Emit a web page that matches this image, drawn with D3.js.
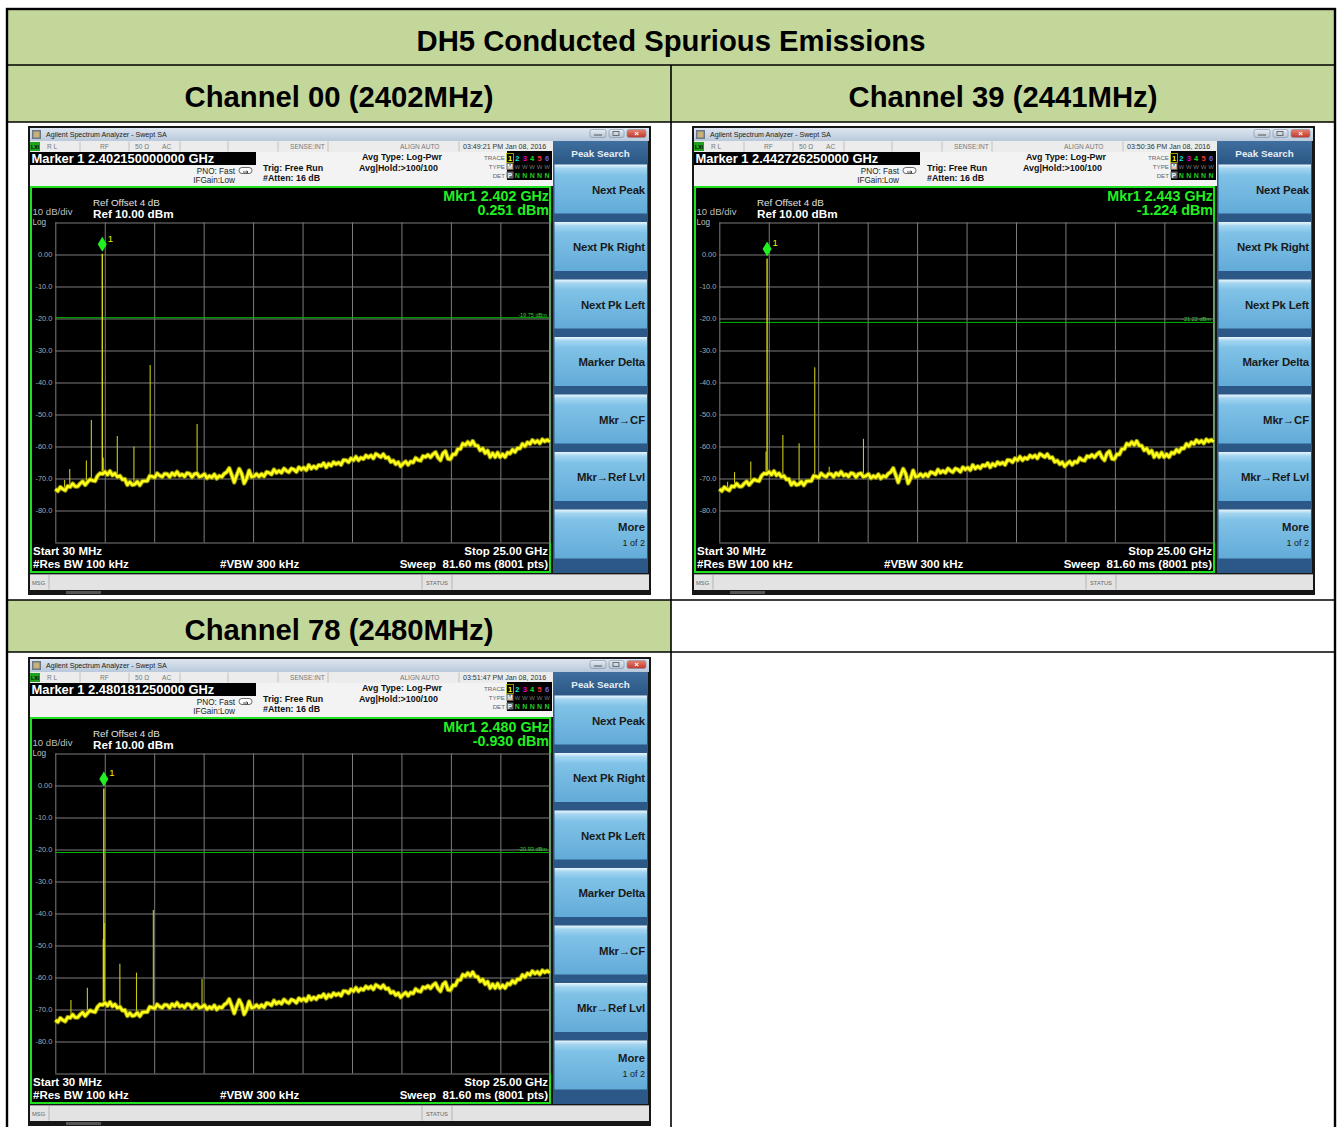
<!DOCTYPE html>
<html><head><meta charset="utf-8">
<script src="https://cdn.jsdelivr.net/npm/d3@7/dist/d3.min.js"></script>
<style>
body{margin:0;background:#fff}
svg{display:block}
text{font-family:"Liberation Sans",Arial,Helvetica,sans-serif}
</style>
</head><body>
<svg id="c" width="1343" height="1127"></svg>
<script>
// ---------------- DATA ----------------
const tableTitle = "DH5 Conducted Spurious Emissions";
const channelLabels = ["Channel 00 (2402MHz)", "Channel 39 (2441MHz)", "Channel 78 (2480MHz)"];
const markerReadouts = ["Marker 1 2.402150000000 GHz", "Marker 1 2.442726250000 GHz", "Marker 1 2.480181250000 GHz"];
const markerFreqGHz = [2.40215, 2.44273, 2.48018];
const markerLevelDbm = [0.251, -1.224, -0.930];
const markerFreqText = ["Mkr1 2.402 GHz", "Mkr1 2.443 GHz", "Mkr1 2.480 GHz"];
const markerLevelText = ["0.251 dBm", "-1.224 dBm", "-0.930 dBm"];
const displayLineDbm = [-19.75, -21.22, -20.93];
const displayLineText = ["-19.75 dBm", "-21.22 dBm", "-20.93 dBm"];
const timestamps = ["03:49:21 PM Jan 08, 2016", "03:50:36 PM Jan 08, 2016", "03:51:47 PM Jan 08, 2016"];

// spurious peaks [GHz, dBm]
const spurs00 = [[0.50,-70.5],[0.76,-67.0],[1.60,-64.4],[1.85,-51.7],[2.45,-63.5],[3.16,-56.7],[4.00,-60.0],[4.82,-34.5],[7.19,-53.0]];
const spurs39 = [[0.45,-71.0],[0.80,-68.0],[1.62,-64.7],[2.39,-61.6],[3.24,-56.4],[4.06,-59.0],[4.85,-35.2],[5.58,-66.3],[7.31,-57.6]];
const spurs78 = [[0.82,-67.0],[1.65,-63.2],[2.45,-48.0],[2.50,-43.0],[3.29,-55.7],[4.13,-58.5],[4.98,-38.9],[7.44,-60.5]];
const spursByChannel = [spurs00, spurs39, spurs78];

// sweep: 30 MHz .. 25 GHz, noise-floor trace (dBm, evenly spaced sweep points)
const sweepStartGHz = 0.03, sweepStopGHz = 25.0;
const noiseFloor = [
-73.3,-73.9,-72.7,-73.3,-73.7,-72.4,-72.6,-71.6,-72.5,-72.5,
-71.6,-70.9,-72.0,-71.1,-70.3,-70.6,-70.8,-69.2,-68.4,-68.6,
-67.9,-68.8,-67.7,-69.0,-68.4,-69.5,-69.2,-70.3,-70.2,-72.0,
-71.1,-72.0,-71.8,-71.0,-72.1,-70.9,-70.8,-70.8,-69.2,-69.4,
-69.7,-68.4,-69.1,-69.5,-68.5,-68.6,-69.5,-68.3,-69.0,-67.9,
-69.1,-68.7,-69.4,-68.3,-68.5,-69.6,-68.6,-68.4,-69.5,-69.2,
-68.6,-69.9,-69.2,-69.7,-68.7,-70.0,-69.2,-69.5,-68.5,-68.0,
-66.8,-68.9,-71.2,-69.0,-67.0,-68.5,-71.5,-70.0,-67.5,-69.5,
-69.3,-68.6,-69.4,-68.6,-69.3,-68.0,-68.2,-68.7,-67.2,-68.2,
-67.6,-68.2,-66.9,-67.6,-68.0,-66.9,-67.2,-67.9,-66.5,-67.2,
-66.6,-67.4,-65.8,-66.9,-66.2,-66.8,-65.8,-66.1,-65.2,-66.5,
-65.4,-66.0,-64.9,-65.5,-65.0,-65.7,-64.2,-64.3,-64.9,-63.7,
-64.3,-63.2,-64.3,-63.5,-63.9,-62.8,-63.4,-62.8,-63.7,-62.3,
-62.8,-63.3,-62.4,-63.6,-63.4,-64.8,-64.4,-65.5,-64.9,-66.2,
-65.3,-64.7,-65.7,-64.7,-65.0,-63.6,-64.2,-64.4,-63.0,-63.3,
-62.6,-63.4,-62.4,-61.8,-63.4,-64.3,-62.2,-61.5,-63.8,-64.0,
-62.4,-62.5,-60.8,-60.8,-59.1,-59.6,-58.6,-59.5,-58.3,-59.7,
-59.8,-61.2,-60.6,-62.1,-61.3,-63.3,-62.1,-63.3,-61.9,-63.3,
-62.4,-63.3,-61.9,-62.2,-61.0,-61.7,-60.5,-60.6,-59.2,-59.9,
-58.7,-59.2,-58.0,-58.8,-58.2,-59.0,-57.8,-58.4,-57.9,-58.5
];

const refLevelDbm = 10, bottomLevelDbm = -90;
const yTickValues = [0, -10, -20, -30, -40, -50, -60, -70, -80];
const yGridValues = [10, 0, -10, -20, -30, -40, -50, -60, -70, -80, -90];
const softkeys = ["Next Peak", "Next Pk Right", "Next Pk Left", "Marker Delta", "Mkr\u2192CF", "Mkr\u2192Ref Lvl", "More"];
const statusCells = [["R L",19],["RF",72],["50 \u03a9",107],["AC",134],["SENSE:INT",262],["ALIGN AUTO",372]];

// ---------------- LAYOUT ----------------
const svg = d3.select("#c");
const FONT = '"Liberation Sans",Arial,sans-serif';
const defs = svg.append("defs");
function grad(id, stops){
  const lg = defs.append("linearGradient").attr("id", id).attr("x1",0).attr("y1",0).attr("x2",0).attr("y2",1);
  stops.forEach(s => lg.append("stop").attr("offset", s[0]).attr("stop-color", s[1]));
}
grad("gTitle", [[0,"#dde6f0"],[1,"#b9c9db"]]);
grad("gKey", [[0,"#eaf6fd"],[0.08,"#a3d5f0"],[0.22,"#80c2e7"],[1,"#62abd8"]]);
grad("gHead", [[0,"#3f6f9f"],[1,"#2a5683"]]);
grad("gBtn", [[0,"#e7edf4"],[1,"#b6c4d4"]]);
grad("gClose", [[0,"#e9826f"],[1,"#c0392b"]]);

// table
const T = {l:7, r:1335, t:9, b:1160, mid:671, r1:65, r2:122, r3:600, r4:652};
const green = "#c4d79b";
svg.append("rect").attr("x",T.l).attr("y",T.t).attr("width",T.r-T.l).attr("height",T.r2-T.t).attr("fill",green);
svg.append("rect").attr("x",T.l).attr("y",T.r3).attr("width",T.mid-T.l).attr("height",T.r4-T.r3).attr("fill",green);

function header(txt, cx, cy, w){
  svg.append("text").attr("x",cx).attr("y",cy).attr("text-anchor","middle").attr("dominant-baseline","central")
    .attr("font-size",29).attr("font-weight","bold").attr("fill","#000")
    .attr("textLength",w).attr("lengthAdjust","spacingAndGlyphs").text(txt);
}
header(tableTitle, 671, 41, 509);
header(channelLabels[0], 339, 96.5, 309);
header(channelLabels[1], 1003, 96.5, 309);
header(channelLabels[2], 339, 630, 309);

// ---------------- ANALYZER SCREEN ----------------
const W = 623, H = 469;
const x = d3.scaleLinear().domain([sweepStartGHz, sweepStopGHz]).range([27.3, 521.8]);
const y = d3.scaleLinear().domain([refLevelDbm, bottomLevelDbm]).range([96.5, 416.5]);
const stepGHz = (sweepStopGHz - sweepStartGHz) / (noiseFloor.length - 1);
const floorAt = f => noiseFloor[Math.max(0, Math.min(noiseFloor.length-1, Math.round((f - sweepStartGHz)/stepGHz)))];

function t(g, s, xx, yy, opt){
  const e = g.append("text").attr("x",xx).attr("y",yy).attr("dominant-baseline","central").text(s);
  Object.entries(opt||{}).forEach(([k,v]) => e.attr(k,v));
  return e;
}

function drawAnalyzer(k, ox, oy){
  const g = svg.append("g").attr("transform",`translate(${ox},${oy})`);
  g.append("rect").attr("width",W).attr("height",H).attr("fill","#161616");
  // title bar
  g.append("rect").attr("x",2).attr("y",2).attr("width",W-4).attr("height",13).attr("fill","url(#gTitle)");
  g.append("rect").attr("x",4).attr("y",4).attr("width",9).attr("height",9).attr("fill","#6a7788");
  g.append("rect").attr("x",5.5).attr("y",5.5).attr("width",6).attr("height",6).attr("fill","#c9b27a");
  t(g,"Agilent Spectrum Analyzer - Swept SA",18,8.7,{"font-size":7.1,"fill":"#222"});
  [[562,16,"url(#gBtn)"],[581,15,"url(#gBtn)"],[599,19,"url(#gClose)"]].forEach(b=>{
    g.append("rect").attr("x",b[0]).attr("y",3.5).attr("width",b[1]).attr("height",8).attr("rx",2)
      .attr("fill",b[2]).attr("stroke","#7d8fa3").attr("stroke-width",0.6);
  });
  g.append("line").attr("x1",566).attr("x2",574).attr("y1",9).attr("y2",9).attr("stroke","#555").attr("stroke-width",1);
  g.append("rect").attr("x",585).attr("y",5.5).attr("width",6).attr("height",4).attr("fill","none").attr("stroke","#555").attr("stroke-width",0.8);
  t(g,"\u00d7",608.5,7.6,{"font-size":8,"fill":"#fff","text-anchor":"middle","font-weight":"bold"});

  // status row
  g.append("rect").attr("x",2).attr("y",15).attr("width",523).attr("height",11).attr("fill","#ececec");
  [52,101,152,200,250,300,431].forEach(d=>g.append("line").attr("x1",d).attr("x2",d).attr("y1",15.5).attr("y2",25.5).attr("stroke","#b8b8b8").attr("stroke-width",0.8));
  g.append("rect").attr("x",2).attr("y",16).attr("width",10).attr("height",9).attr("fill","#1fa31f");
  t(g,"LXI",7,20.6,{"font-size":5,"fill":"#000","text-anchor":"middle","font-weight":"bold"});
  statusCells.forEach(c=>t(g,c[0],c[1],20.6,{"font-size":6.6,"fill":"#777"}));
  t(g,timestamps[k],435,20.6,{"font-size":7.1,"fill":"#333"});

  // info area
  g.append("rect").attr("x",2).attr("y",26).attr("width",523).attr("height",34).attr("fill","#f3f3f3");
  g.append("rect").attr("x",2).attr("y",26).attr("width",226).attr("height",13).attr("fill","#000");
  t(g,markerReadouts[k],3.5,32.8,{"font-size":12.9,"font-weight":"bold","fill":"#fff"});
  t(g,"PNO: Fast",207,45,{"font-size":8.2,"fill":"#222","text-anchor":"end"});
  t(g,"IFGain:Low",207,54,{"font-size":8.2,"fill":"#222","text-anchor":"end"});
  g.append("rect").attr("x",211).attr("y",41.5).attr("width",13).attr("height",6).attr("rx",3).attr("fill","#fff").attr("stroke","#444").attr("stroke-width",0.8);
  g.append("path").attr("d","M215,46 L220,46 M218.5,44.5 L220,46 L218.5,47.5").attr("stroke","#222").attr("fill","none").attr("stroke-width",0.8);
  t(g,"Trig: Free Run",235,42,{"font-size":8.9,"font-weight":"bold","fill":"#111"});
  t(g,"#Atten: 16 dB",235,52,{"font-size":8.9,"font-weight":"bold","fill":"#111"});
  t(g,"Avg Type: Log-Pwr",334,31,{"font-size":8.9,"font-weight":"bold","fill":"#111"});
  t(g,"Avg|Hold:>100/100",331,42,{"font-size":8.9,"font-weight":"bold","fill":"#111"});
  t(g,"TRACE",477,31.5,{"font-size":6.2,"fill":"#666","text-anchor":"end"});
  t(g,"TYPE",477,40.5,{"font-size":6.2,"fill":"#666","text-anchor":"end"});
  t(g,"DET",477,49,{"font-size":6.2,"fill":"#666","text-anchor":"end"});
  g.append("rect").attr("x",479).attr("y",25).attr("width",45).attr("height",29).attr("fill","#000");
  const tc = ["#ffff00","#00e5e5","#e000e0","#22dd22","#ff3030","#6060ff"];
  tc.forEach((c,i)=>{
    const cx = 482 + i*7.4;
    t(g,String(i+1),cx,32,{"font-size":7.5,"font-weight":"bold","fill":c,"text-anchor":"middle"});
    if(i>0){
      t(g,"W",cx,40.5,{"font-size":6,"fill":"#777","text-anchor":"middle"});
      t(g,"N",cx,49,{"font-size":7,"font-weight":"bold","fill":"#22cc22","text-anchor":"middle"});
    }
  });
  g.append("rect").attr("x",478.5).attr("y",27.5).attr("width",7).attr("height",9).attr("fill","none").attr("stroke","#bbbb00").attr("stroke-width",0.8);
  g.append("rect").attr("x",478.5).attr("y",37).attr("width",7).attr("height",7).attr("fill","#666");
  t(g,"M",482,40.5,{"font-size":6.5,"font-weight":"bold","fill":"#fff","text-anchor":"middle"});
  g.append("rect").attr("x",478.5).attr("y",45.5).attr("width",7).attr("height",7).attr("fill","#666");
  t(g,"P",482,49,{"font-size":6.5,"font-weight":"bold","fill":"#fff","text-anchor":"middle"});

  // plot region
  g.append("rect").attr("x",3).attr("y",61).attr("width",519).attr("height",385).attr("fill","#000")
    .attr("stroke","#1fe01f").attr("stroke-width",2);

  // grid via axes
  const xTickVals = d3.range(0, 11).map(i => sweepStartGHz + i*(sweepStopGHz - sweepStartGHz)/10);
  g.append("g").attr("transform",`translate(0,${y(bottomLevelDbm)})`)
    .call(d3.axisBottom(x).tickValues(xTickVals).tickSize(-(y(bottomLevelDbm)-y(refLevelDbm))).tickFormat(""))
    .call(s=>{s.select(".domain").remove(); s.selectAll("line").attr("stroke","#7c7c7c").attr("stroke-width",1);});
  g.append("g").attr("transform",`translate(${x(sweepStartGHz)},0)`)
    .call(d3.axisLeft(y).tickValues(yGridValues).tickSize(-(x(sweepStopGHz)-x(sweepStartGHz))).tickFormat(""))
    .call(s=>{s.select(".domain").remove(); s.selectAll("line").attr("stroke","#7c7c7c").attr("stroke-width",1);});
  g.append("g").attr("transform",`translate(${x(sweepStartGHz)},0)`)
    .call(d3.axisLeft(y).tickValues(yTickValues).tickSize(0).tickPadding(3).tickFormat(d => d===0 ? "0.00" : d.toFixed(1)))
    .call(s=>{s.select(".domain").remove(); s.selectAll("text").attr("fill","#a8a8a8").attr("font-size",7.4).attr("font-family",FONT);});

  // plot texts
  t(g,"Ref Offset 4 dB",65,76,{"font-size":9.8,"fill":"#e0e0e0"});
  t(g,"Ref 10.00 dBm",65,87.5,{"font-size":11.7,"font-weight":"bold","fill":"#fff"});
  t(g,"10 dB/div",4.5,86.6,{"font-size":8.2,"fill":"#bdbdbd","textLength":40,"lengthAdjust":"spacingAndGlyphs"});
  t(g,"Log",4.5,96.4,{"font-size":8.2,"fill":"#bdbdbd"});
  t(g,markerFreqText[k],521,70,{"font-size":14.3,"font-weight":"bold","fill":"#22f022","text-anchor":"end"});
  t(g,markerLevelText[k],521,84,{"font-size":14.3,"font-weight":"bold","fill":"#22f022","text-anchor":"end"});
  const bt = {"font-size":11.5,"font-weight":"bold","fill":"#fff"};
  t(g,"Start 30 MHz",5,425,bt);
  t(g,"#Res BW 100 kHz",5,438,bt);
  t(g,"#VBW 300 kHz",192,438,bt);
  t(g,"Stop 25.00 GHz",520,425,Object.assign({"text-anchor":"end"},bt));
  t(g,"Sweep\u00a0\u00a081.60 ms (8001 pts)",520,438,Object.assign({"text-anchor":"end"},bt));

  // display line
  const dl = displayLineDbm[k];
  g.append("line").attr("x1",x(sweepStartGHz)).attr("x2",x(sweepStopGHz)).attr("y1",y(dl)).attr("y2",y(dl))
    .attr("stroke","#00b800").attr("stroke-width",1);
  t(g,displayLineText[k],519,y(dl)-3,{"font-size":5.6,"fill":"#30d030","text-anchor":"end"});

  // spurs
  g.append("g").selectAll("line").data(spursByChannel[k]).join("line")
    .attr("x1",d=>x(d[0])).attr("x2",d=>x(d[0]))
    .attr("y1",d=>y(d[1])).attr("y2",d=>y(floorAt(d[0])))
    .attr("stroke","#c9c912").attr("stroke-width",1.1);
  // carrier
  g.append("line").attr("x1",x(markerFreqGHz[k])).attr("x2",x(markerFreqGHz[k]))
    .attr("y1",y(markerLevelDbm[k])).attr("y2",y(floorAt(markerFreqGHz[k])))
    .attr("stroke","#e6e61a").attr("stroke-width",1.3);

  // noise floor trace
  const line = d3.line().x((d,i)=>x(sweepStartGHz + i*stepGHz)).y(d=>y(d));
  g.append("path").datum(noiseFloor).attr("d",line).attr("fill","none").attr("stroke","#8c8c00").attr("stroke-width",4.6).attr("stroke-linejoin","round");
  g.append("path").datum(noiseFloor).attr("d",line).attr("fill","none").attr("stroke","#ffff1a").attr("stroke-width",2.6).attr("stroke-linejoin","round");

  // marker diamond
  const mx = x(markerFreqGHz[k]), my = y(markerLevelDbm[k]) - 2;
  g.append("path").attr("d",`M${mx},${my-15} L${mx+4.5},${my-7.5} L${mx},${my} L${mx-4.5},${my-7.5} Z`).attr("fill","#22ee22");
  t(g,"1",mx+5.5,my-13.5,{"font-size":9.5,"fill":"#f0f000"});

  // softkey panel
  g.append("rect").attr("x",525).attr("y",15).attr("width",95).attr("height",432).attr("fill","#2b5886");
  g.append("rect").attr("x",525).attr("y",15).attr("width",95).attr("height",23.5).attr("fill","url(#gHead)");
  t(g,"Peak Search",572.5,27,{"font-size":9.8,"fill":"#e8eef6","text-anchor":"middle","font-weight":"bold"});
  softkeys.forEach((s,i)=>{
    const top = 38.5 + i*57.5;
    g.append("rect").attr("x",526.5).attr("y",top).attr("width",92.5).attr("height",49).attr("fill","url(#gKey)");
    if(s === "More"){
      t(g,s,617,top+17.5,{"font-size":11.3,"font-weight":"bold","fill":"#1a1a1a","text-anchor":"end"});
      t(g,"1 of 2",617,top+33.5,{"font-size":9,"fill":"#1a1a1a","text-anchor":"end"});
    } else {
      t(g,s,617,top+25,{"font-size":11.4,"font-weight":"bold","fill":"#1a1a1a","text-anchor":"end","letter-spacing":-0.15});
    }
  });

  // msg bar
  g.append("rect").attr("x",2).attr("y",448.5).attr("width",619).attr("height",15.5).attr("fill","#e3e3e3");
  g.append("line").attr("x1",2).attr("x2",621).attr("y1",448.5).attr("y2",448.5).attr("stroke","#9a9a9a");
  t(g,"MSG",4,456.5,{"font-size":5.8,"fill":"#666"});
  [21,394,424].forEach(d=>g.append("line").attr("x1",d).attr("x2",d).attr("y1",449).attr("y2",463.5).attr("stroke","#aaa").attr("stroke-width",0.8));
  t(g,"STATUS",409,456.5,{"font-size":5.8,"fill":"#666","text-anchor":"middle"});
  g.append("rect").attr("x",38).attr("y",465).attr("width",35).attr("height",3).attr("fill","#555");
}

drawAnalyzer(0, 28, 126);
drawAnalyzer(1, 692, 126);
drawAnalyzer(2, 28, 657);

// table lines (on top)
const L = (x1,y1,x2,y2,w)=>svg.append("line").attr("x1",x1).attr("y1",y1).attr("x2",x2).attr("y2",y2).attr("stroke","#000").attr("stroke-width",w);
L(T.l,T.r1,T.r,T.r1,1.6);
L(T.l,T.r2,T.r,T.r2,1.6);
L(T.l,T.r3,T.r,T.r3,1.6);
L(T.l,T.r4,T.r,T.r4,1.6);
L(T.mid,T.r1,T.mid,T.b,1.6);
svg.append("rect").attr("x",T.l).attr("y",T.t).attr("width",T.r-T.l).attr("height",T.b-T.t).attr("fill","none").attr("stroke","#000").attr("stroke-width",2.4);
</script>
</body></html>
